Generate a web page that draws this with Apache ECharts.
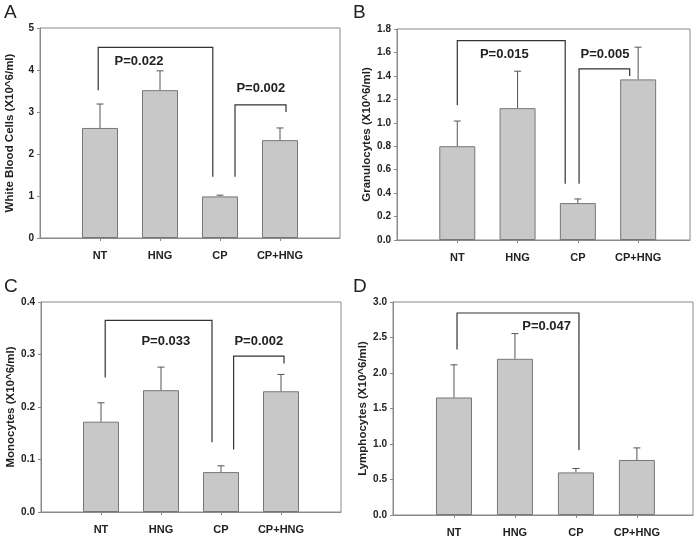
<!DOCTYPE html>
<html><head><meta charset="utf-8">
<script src="https://cdn.jsdelivr.net/npm/echarts@6/dist/echarts.min.js"></script>
<style>html,body{margin:0;padding:0;background:#fff}#c{width:700px;height:540px}</style>
</head><body><div id="c"></div>
<script>
var categories = ['NT', 'HNG', 'CP', 'CP+HNG'];

var wbcMean = [2.62, 3.52, 0.99, 2.33];
var wbcSE = [0.57, 0.46, 0.03, 0.29];
var granMean = [0.80, 1.125, 0.315, 1.37];
var granSE = [0.215, 0.315, 0.035, 0.275];
var monoMean = [0.172, 0.232, 0.076, 0.230];
var monoSE = [0.036, 0.044, 0.012, 0.032];
var lymphMean = [1.655, 2.20, 0.60, 0.775];
var lymphSE = [0.46, 0.355, 0.055, 0.17];

var yTitles = ['White Blood Cells (X10^6/ml)', 'Granulocytes (X10^6/ml)', 'Monocytes (X10^6/ml)', 'Lymphocytes (X10^6/ml)'];
var panelLetters = ['A', 'B', 'C', 'D'];
var yMax = [5, 1.8, 0.4, 3.0];
var yStep = [1, 0.2, 0.1, 0.5];
var yDecimals = [0, 1, 1, 1];

// brackets: [xLeft, yLeftEnd, xRight, yRightEnd, yTop]
var bracketsA = [[0.97, 3.52, 2.88, 1.46, 4.54], [3.25, 1.46, 4.10, 3.00, 3.17]];
var bracketsB = [[1.00, 1.15, 2.79, 0.48, 1.70], [3.02, 0.48, 3.86, 1.40, 1.46]];
var bracketsC = [[1.07, 0.256, 2.85, 0.133, 0.365], [3.21, 0.119, 4.05, 0.283, 0.297]];
var bracketsD = [[1.05, 2.33, 3.05, 0.914, 2.845]];
// p-value labels: [x, y, text]
var pLabelsA = [[1.65, 4.21, 'P=0.022'], [3.68, 3.55, 'P=0.002']];
var pLabelsB = [[1.78, 1.587, 'P=0.015'], [3.45, 1.587, 'P=0.005']];
var pLabelsC = [[2.08, 0.325, 'P=0.033'], [3.63, 0.325, 'P=0.002']];
var pLabelsD = [[2.52, 2.65, 'P=0.047']];

var means = [wbcMean, granMean, monoMean, lymphMean];
var ses = [wbcSE, granSE, monoSE, lymphSE];
var brackets = [bracketsA, bracketsB, bracketsC, bracketsD];
var pLabels = [pLabelsA, pLabelsB, pLabelsC, pLabelsD];

var grids = [
  {left: 40, top: 28, width: 300, height: 210},
  {left: 397, top: 29, width: 293, height: 211},
  {left: 41, top: 302, width: 300, height: 210},
  {left: 393, top: 302, width: 300, height: 213}
];
var xMax = [5, 4.86, 5, 4.92];
var letterPos = [[4, 3], [353, 3], [4, 277], [353, 277]];

var FONT = 'Liberation Sans, Arial, sans-serif';
var AXC = '#8a8a8a';
var option = {
  animation: false,
  backgroundColor: '#fff',
  grid: [], xAxis: [], yAxis: [], series: [],
  graphic: []
};

for (var i = 0; i < 4; i++) {
  option.grid.push(Object.assign({show: true, borderColor: AXC, borderWidth: 1, containLabel: false}, grids[i]));
  option.xAxis.push({
    type: 'value', gridIndex: i, min: 0, max: xMax[i],
    splitLine: {show: false},
    axisLine: {show: true, lineStyle: {color: AXC}},
    axisTick: {show: true, customValues: [1, 2, 3, 4], length: 3, lineStyle: {color: AXC}},
    axisLabel: {
      show: true, customValues: [1, 2, 3, 4], margin: 12,
      fontFamily: FONT, fontWeight: 'bold', fontSize: 11, color: '#222',
      formatter: function (v) { return categories[Math.round(v) - 1] || ''; }
    }
  });
  (function (i) {
    option.yAxis.push({
      type: 'value', gridIndex: i, min: 0, max: yMax[i], interval: yStep[i],
      splitLine: {show: false},
      axisLine: {show: true, lineStyle: {color: AXC}},
      axisTick: {show: true, inside: false, length: 3, lineStyle: {color: AXC}},
      axisLabel: {margin: 6, fontFamily: FONT, fontWeight: 'bold', fontSize: 10, color: '#222',
        formatter: function (v) { return v.toFixed(yDecimals[i]); }},
      name: yTitles[i], nameLocation: 'middle', nameGap: 24,
      nameTextStyle: {fontFamily: FONT, fontWeight: 'bold', fontSize: 11.5, color: '#222'}
    });
  })(i);

  var barData = means[i].map(function (v, k) { return [k + 1, v]; });
  option.series.push({
    type: 'bar', xAxisIndex: i, yAxisIndex: i, data: barData, barWidth: 36,
    itemStyle: {color: '#c8c8c8', borderColor: '#777', borderWidth: 1}
  });

  var errData = means[i].map(function (v, k) { return [k + 1, v, v + ses[i][k]]; });
  option.series.push({
    type: 'custom', xAxisIndex: i, yAxisIndex: i, data: errData, z: 3,
    renderItem: function (params, api) {
      var p0 = api.coord([api.value(0), api.value(1)]);
      var p1 = api.coord([api.value(0), api.value(2)]);
      var st = {stroke: '#555', lineWidth: 1};
      return {type: 'group', children: [
        {type: 'line', shape: {x1: p0[0], y1: p0[1], x2: p1[0], y2: p1[1]}, style: st},
        {type: 'line', shape: {x1: p1[0] - 3.5, y1: p1[1], x2: p1[0] + 3.5, y2: p1[1]}, style: st}
      ]};
    }
  });

  option.series.push({
    type: 'custom', xAxisIndex: i, yAxisIndex: i, data: brackets[i], z: 4,
    renderItem: function (params, api) {
      var a = api.coord([api.value(0), api.value(1)]);
      var b = api.coord([api.value(0), api.value(4)]);
      var c = api.coord([api.value(2), api.value(4)]);
      var d = api.coord([api.value(2), api.value(3)]);
      return {type: 'polyline', shape: {points: [a, b, c, d]},
        style: {stroke: '#333', lineWidth: 1.2, fill: null}};
    }
  });

  option.series.push({
    type: 'custom', xAxisIndex: i, yAxisIndex: i, data: pLabels[i], z: 5,
    renderItem: function (params, api) {
      var p = api.coord([api.value(0), api.value(1)]);
      return {type: 'text', x: p[0], y: p[1],
        style: {text: api.value(2), fontFamily: FONT, fontWeight: 'bold', fontSize: 13, fill: '#222',
          align: 'center', verticalAlign: 'middle'}};
    }
  });

  option.graphic.push({type: 'text', left: letterPos[i][0], top: letterPos[i][1],
    style: {text: panelLetters[i], fontFamily: FONT, fontSize: 19, fill: '#222'}});
}

var chart = echarts.init(document.getElementById('c'), null, {renderer: 'canvas'});
chart.setOption(option);
</script>
</body></html>
